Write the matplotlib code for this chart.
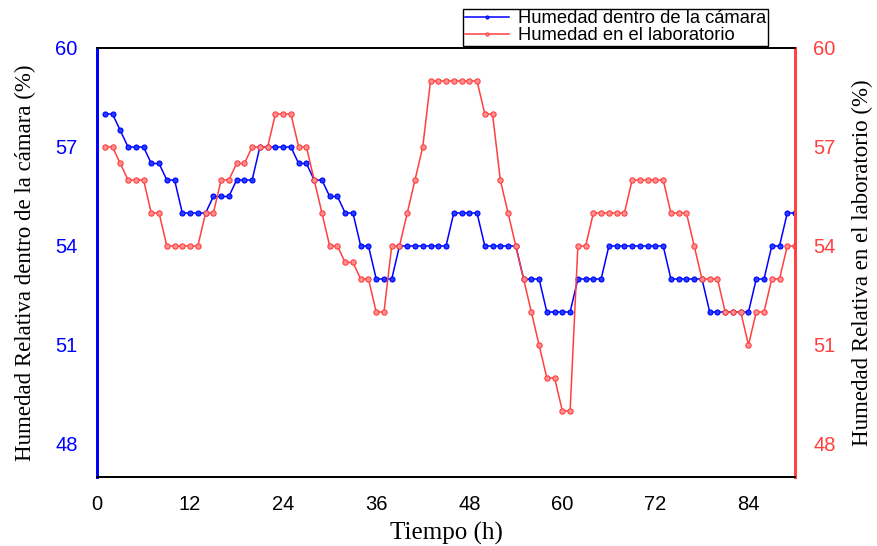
import matplotlib
matplotlib.use('Agg')
import numpy as np
from matplotlib import pyplot as plt

# Data (hourly readings)
hours = list(range(1, 91))
humidity_chamber = [58, 58, 57.5, 57, 57, 57, 56.5, 56.5, 56, 56,
                    55, 55, 55, 55, 55.5, 55.5, 55.5, 56, 56, 56,
                    57, 57, 57, 57, 57, 56.5, 56.5, 56, 56, 55.5,
                    55.5, 55, 55, 54, 54, 53, 53, 53, 54, 54,
                    54, 54, 54, 54, 54, 55, 55, 55, 55, 54,
                    54, 54, 54, 54, 53, 53, 53, 52, 52, 52,
                    52, 53, 53, 53, 53, 54, 54, 54, 54, 54,
                    54, 54, 54, 53, 53, 53, 53, 53, 52, 52,
                    52, 52, 52, 52, 53, 53, 54, 54, 55, 55]
humidity_lab = [57, 57, 56.5, 56, 56, 56, 55, 55, 54, 54,
                54, 54, 54, 55, 55, 56, 56, 56.5, 56.5, 57,
                57, 57, 58, 58, 58, 57, 57, 56, 55, 54,
                54, 53.5, 53.5, 53, 53, 52, 52, 54, 54, 55,
                56, 57, 59, 59, 59, 59, 59, 59, 59, 58,
                58, 56, 55, 54, 53, 52, 51, 50, 50, 49,
                49, 54, 54, 55, 55, 55, 55, 55, 56, 56,
                56, 56, 56, 55, 55, 55, 54, 53, 53, 53,
                52, 52, 52, 51, 52, 52, 53, 53, 54, 54]
x_ticks = [0, 12, 24, 36, 48, 60, 72, 84]
y_ticks = [48, 51, 54, 57, 60]

# Plot aspects
color_blue = '#0000ff'
color_red = '#ff4040'
serif = 'Liberation Serif'
sans = 'Liberation Sans'

fig = plt.figure(figsize=(8.78, 5.46), dpi=100)
ax = fig.add_axes([0.1105, 0.1264, 0.7950, 0.7857])
ax2 = ax.twinx()

l1, = ax.plot(hours, humidity_chamber, '-o', color=color_blue, lw=1.1, markersize=3.6,
              markerfacecolor='#2040ff', markeredgecolor=color_blue, markeredgewidth=0.8,
              label='Humedad dentro de la cámara')
l2, = ax2.plot(hours, humidity_lab, '-o', color=color_red, lw=1.1, markersize=3.8,
               markerfacecolor='#ff9090', markeredgecolor=color_red, markeredgewidth=0.8,
               label='Humedad en el laboratorio')

for a in (ax, ax2):
    a.set_xlim(0, 90)
    a.set_ylim(47, 60)
    a.set_yticks(y_ticks)
    a.tick_params(length=0)

ax.set_xticks(x_ticks)
ax.tick_params(axis='x', pad=13)
ax.tick_params(axis='y', pad=14, colors=color_blue)
ax2.tick_params(axis='y', pad=13, colors=color_red)
for lab in ax.get_xticklabels() + ax.get_yticklabels() + ax2.get_yticklabels():
    lab.set_fontfamily(sans)
    lab.set_fontsize(14.5)

ax.set_xlabel('Tiempo (h)', fontfamily=serif, fontsize=18, labelpad=6)
ax.set_ylabel('Humedad Relativa dentro de la cámara (%)', fontfamily=serif, fontsize=16.5, labelpad=14)
ax2.set_ylabel('Humedad Relativa en el laboratorio (%)', fontfamily=serif, fontsize=16.5, labelpad=12)

# spines
for a in (ax, ax2):
    a.spines['top'].set_color('black')
    a.spines['bottom'].set_color('black')
    a.spines['top'].set_linewidth(1.3)
    a.spines['bottom'].set_linewidth(1.3)
    a.spines['left'].set_color(color_blue)
    a.spines['left'].set_linewidth(2)
    a.spines['right'].set_color(color_red)
    a.spines['right'].set_linewidth(2)

leg = ax.legend(handles=[l1, l2], loc='lower right', bbox_to_anchor=(0.961, 1.004),
                borderaxespad=0, fancybox=False, edgecolor='black', framealpha=1,
                prop={'family': sans, 'size': 13.2}, handlelength=2.4, handletextpad=0.5,
                borderpad=0.1, labelspacing=0.0, markerscale=0.6)
leg.get_frame().set_linewidth(1.0)

fig.savefig('out.png', dpi=100)
